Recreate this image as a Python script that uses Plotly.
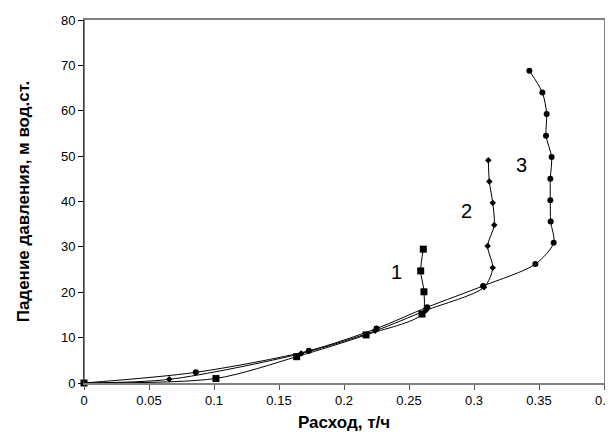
import plotly.graph_objects as go

# Series 1 (squares)
x1 = [0, 0.1015, 0.1636, 0.217, 0.260, 0.2615, 0.259, 0.261]
y1 = [0, 1.0, 5.8, 10.6, 15.2, 20.1, 24.7, 29.5]
# Series 2 (diamonds)
x2 = [0, 0.0656, 0.167, 0.224, 0.263, 0.3077, 0.3144, 0.3105, 0.3156, 0.3144, 0.3118, 0.311]
y2 = [0, 0.8, 6.5, 11.5, 16.0, 21.1, 25.4, 30.2, 34.8, 39.7, 44.4, 49.1]
# Series 3 (circles)
x3 = [0, 0.086, 0.173, 0.225, 0.264, 0.307, 0.3472, 0.3613, 0.359, 0.3587, 0.3587, 0.3597, 0.3554, 0.3559, 0.3526, 0.3426]
y3 = [0, 2.35, 7.1, 12.0, 16.7, 21.4, 26.2, 30.9, 35.6, 40.3, 45.0, 49.8, 54.5, 59.3, 64.0, 68.8]

label_text = ["1", "2", "3"]
label_x = [0.24, 0.2944, 0.3367]
label_y = [24.5, 37.9, 48.0]

x_ticks = [0, 0.05, 0.1, 0.15, 0.2, 0.25, 0.3, 0.35, 0.4]
x_tick_text = ["0", "0.05", "0.1", "0.15", "0.2", "0.25", "0.3", "0.35", "0.4"]
y_ticks = [0, 10, 20, 30, 40, 50, 60, 70, 80]

fig = go.Figure()
for xs, ys, sym, sz in [(x1, y1, "square", 7), (x2, y2, "diamond", 5), (x3, y3, "circle", 6)]:
    fig.add_trace(go.Scatter(
        x=xs, y=ys, mode="lines+markers",
        line=dict(color="black", width=1, shape="spline", smoothing=0.8),
        marker=dict(symbol=sym, size=sz, color="black"),
        showlegend=False, cliponaxis=False,
    ))

for t, lx, ly in zip(label_text, label_x, label_y):
    fig.add_annotation(x=lx, y=ly, text=t, showarrow=False,
                       font=dict(family="Liberation Sans, Arial", size=20, color="black"))

# page body has an 8px default margin, so the figure is sized to fit the window
fig.update_layout(
    width=606, height=429,
    margin=dict(l=76, r=10, t=12, b=54),
    paper_bgcolor="white", plot_bgcolor="white",
    font=dict(family="Liberation Sans, Arial", size=13, color="black"),
)
fig.update_xaxes(
    range=[0, 0.4], tickvals=x_ticks, ticktext=x_tick_text,
    showgrid=False, zeroline=False, automargin=False, ticklabeloverflow="allow",
    showline=True, linecolor="#808080", linewidth=1.5, mirror=True,
    ticks="outside", ticklen=5, tickcolor="#555555",
    title=dict(text="<b>Расход, т/ч</b>", font=dict(size=17), standoff=9),
)
fig.update_yaxes(
    range=[0, 80], tickvals=y_ticks,
    showgrid=False, zeroline=False, automargin=False,
    showline=True, linecolor="#808080", linewidth=1, mirror=True,
    ticks="outside", ticklen=5, tickcolor="black",
    title=dict(text="<b>Падение давления, м вод.ст.</b>", font=dict(size=17), standoff=26),
)
fig.add_shape(type="line", xref="paper", yref="paper", x0=0, x1=0, y0=0, y1=1,
              line=dict(color="black", width=1))

fig.write_html("out.html")
